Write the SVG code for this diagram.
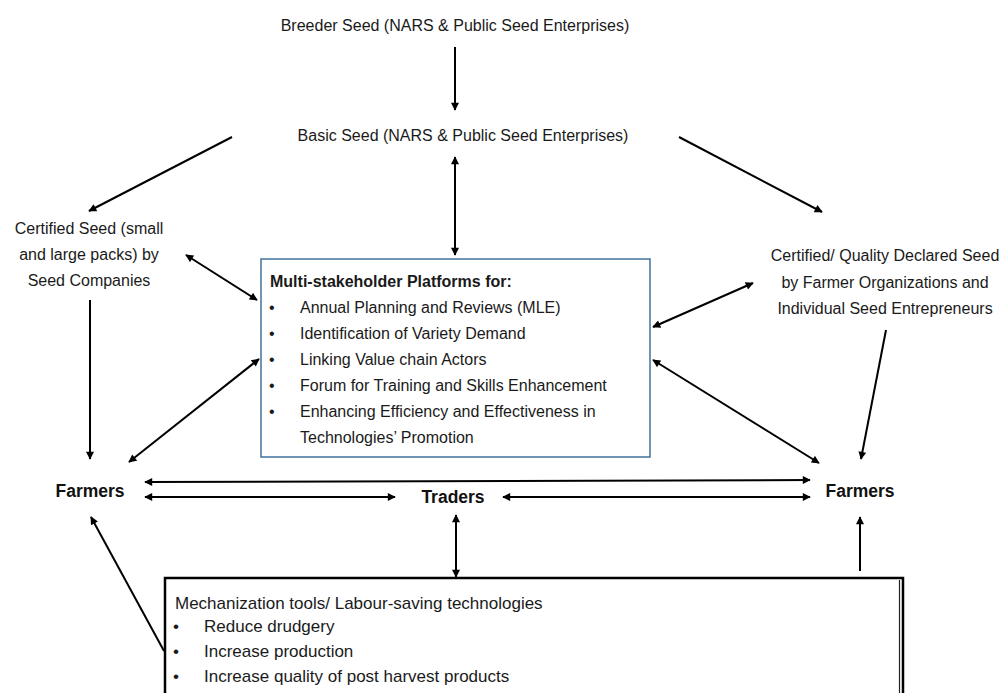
<svg xmlns="http://www.w3.org/2000/svg" width="1007" height="693" viewBox="0 0 1007 693">
<style>
.t{font-family:"Liberation Sans",Arial,sans-serif;font-size:16px;fill:#1a1a1a}
.m{font-size:17px}
.c{text-anchor:middle}
.b{font-weight:bold}
.fb{font-family:"Liberation Sans",Arial,sans-serif;font-size:17.5px;font-weight:bold;fill:#111}
.ln{stroke:#000;stroke-width:2;fill:none}
</style>
<defs>
<marker id="ah" viewBox="0 0 10 10" refX="9" refY="5" markerWidth="9" markerHeight="8" markerUnits="userSpaceOnUse" orient="auto-start-reverse">
<path d="M0,0 L10,5 L0,10 z" fill="#000"/>
</marker>
</defs>
<rect width="1007" height="693" fill="#fff"/>

<g id="breeder"><text class="t c" x="455" y="31">Breeder Seed (NARS &amp; Public Seed Enterprises)</text></g>
<g id="basic"><text class="t c" x="463" y="141">Basic Seed (NARS &amp; Public Seed Enterprises)</text></g>
<g id="certified-left">
<text class="t c" x="89" y="234">Certified Seed (small</text>
<text class="t c" x="89" y="260">and large packs) by</text>
<text class="t c" x="89" y="286">Seed Companies</text>
</g>
<g id="certified-right">
<text class="t c" x="885" y="261">Certified/ Quality Declared Seed</text>
<text class="t c" x="885" y="288">by Farmer Organizations and</text>
<text class="t c" x="885" y="314">Individual Seed Entrepreneurs</text>
</g>
<g id="platforms">
<rect x="261" y="259" width="389" height="198" fill="#fff" stroke="#41719C" stroke-width="1.5"/>
<text class="t b" x="270" y="287">Multi-stakeholder Platforms for:</text>
<g class="t">
<text x="269" y="313">•</text><text x="300" y="313">Annual Planning and Reviews (MLE)</text>
<text x="269" y="339">•</text><text x="300" y="339">Identification of Variety Demand</text>
<text x="269" y="365">•</text><text x="300" y="365">Linking Value chain Actors</text>
<text x="269" y="391">•</text><text x="300" y="391">Forum for Training and Skills Enhancement</text>
<text x="269" y="417">•</text><text x="300" y="417">Enhancing Efficiency and Effectiveness in</text>
<text x="300" y="443">Technologies’ Promotion</text>
</g>
</g>
<g id="farmers-left"><text class="fb c" x="90" y="497">Farmers</text></g>
<g id="traders"><text class="fb c" x="453" y="503">Traders</text></g>
<g id="farmers-right"><text class="fb c" x="860" y="497">Farmers</text></g>
<g id="mechanization">
<rect x="165" y="578" width="738" height="140" fill="#fff" stroke="#000" stroke-width="2.5"/>
<line x1="899.5" y1="580" x2="899.5" y2="693" stroke="#222" stroke-width="1.2"/>
<g class="t m">
<text x="175" y="609">Mechanization tools/ Labour-saving technologies</text>
<text x="173" y="632">•</text><text x="204" y="632">Reduce drudgery</text>
<text x="173" y="657">•</text><text x="204" y="657">Increase production</text>
<text x="173" y="682">•</text><text x="204" y="682">Increase quality of post harvest products</text>
</g>
</g>

<g id="connectors" class="ln">
<line x1="455" y1="47" x2="455" y2="110" marker-end="url(#ah)"/>
<line x1="455" y1="157" x2="455" y2="255" marker-start="url(#ah)" marker-end="url(#ah)"/>
<line x1="232" y1="137" x2="89" y2="211" marker-end="url(#ah)"/>
<line x1="679" y1="137" x2="822" y2="212" marker-end="url(#ah)"/>
<line x1="186" y1="255" x2="257" y2="300" marker-start="url(#ah)" marker-end="url(#ah)"/>
<line x1="653" y1="327" x2="753" y2="283" marker-start="url(#ah)" marker-end="url(#ah)"/>
<line x1="90" y1="300" x2="90" y2="459" marker-end="url(#ah)"/>
<line x1="886" y1="330" x2="861" y2="459" marker-end="url(#ah)"/>
<line x1="129" y1="462" x2="259" y2="359" marker-start="url(#ah)" marker-end="url(#ah)"/>
<line x1="653" y1="360" x2="819" y2="463" marker-start="url(#ah)" marker-end="url(#ah)"/>
<line x1="145" y1="482" x2="810" y2="480" marker-start="url(#ah)" marker-end="url(#ah)"/>
<line x1="145" y1="497" x2="395" y2="497" marker-start="url(#ah)" marker-end="url(#ah)"/>
<line x1="503" y1="497" x2="810" y2="497" marker-start="url(#ah)" marker-end="url(#ah)"/>
<line x1="456" y1="515" x2="456" y2="577" marker-start="url(#ah)" marker-end="url(#ah)"/>
<line x1="164" y1="651" x2="91" y2="517" marker-end="url(#ah)"/>
<line x1="860" y1="571" x2="860" y2="517" marker-end="url(#ah)"/>
</g>
</svg>
